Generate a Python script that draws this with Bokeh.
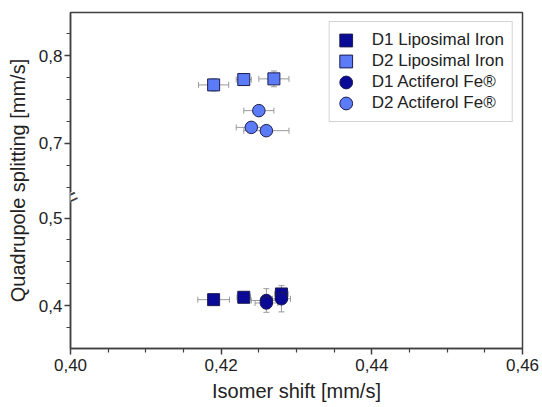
from bokeh.plotting import figure
from bokeh.models import (Range1d, LinearAxis, FixedTicker, CustomJSTickFormatter,
                          ColumnDataSource, Whisker, TeeHead, Legend, LegendItem, Label)
from bokeh.embed import file_html
from bokeh.resources import INLINE

# ---------------- data ----------------
d1_lipo_x = [0.4190, 0.4230, 0.4280]
d1_lipo_y = [0.4068, 0.4095, 0.4133]
d1_lipo_xerr = [0.0021, 0.0009, 0.0009]
d1_lipo_yerr = [0.002, 0.002, 0.004]

d2_lipo_x = [0.4190, 0.4230, 0.4270]
d2_lipo_y = [0.7668, 0.7729, 0.7737]
d2_lipo_xerr = [0.0020, 0.0010, 0.0020]
d2_lipo_yerr = [0.007, 0.004, 0.009]

d1_acti_x = [0.4260, 0.4260, 0.4280]
d1_acti_y = [0.4058, 0.4030, 0.4078]
d1_acti_xerr = [0.0020, 0.0015, 0.0012]
d1_acti_yerr = [0.0135, 0.006, 0.015]

d2_acti_x = [0.4250, 0.4240, 0.4260]
d2_acti_y = [0.7374, 0.7183, 0.7145]
d2_acti_xerr = [0.0020, 0.0020, 0.0030]
d2_acti_yerr = [0.003, 0.003, 0.003]

series_labels = ["D1 Liposimal Iron", "D2 Liposimal Iron",
                 "D1 Actiferol Fe\u00ae", "D2 Actiferol Fe\u00ae"]

x_ticks = [0.40, 0.42, 0.44, 0.46]
x_minor = [0.405, 0.41, 0.415, 0.425, 0.43, 0.435, 0.445, 0.45, 0.455]
y_ticks_lower = [0.4, 0.5]
y_minor_lower = [0.375, 0.425, 0.45, 0.475]
y_ticks_upper = [0.7, 0.8]
y_minor_upper = [0.65, 0.675, 0.725, 0.75, 0.775, 0.825]

# ---------------- broken y axis setup ----------------
lower_start = 0.351
span = 0.3838
upper_top = 0.8495
upper_start = upper_top - span
off = upper_start - lower_start
brk = 0.5237  # virtual position of the axis break

D1_COL = "#0a0a96"
D2_COL = "#5b7cf6"
EDGE = "#1c1c50"
ERR = "#9a9a9a"
AX = "#404040"
FONT = "Liberation Sans"

p = figure(width=542, height=407,
           x_range=Range1d(0.40, 0.46),
           y_range=Range1d(lower_start, lower_start + span),
           x_axis_type=None, y_axis_type=None,
           output_backend="svg", toolbar_location=None,
           min_border_left=70, min_border_right=20,
           min_border_top=12, min_border_bottom=59)
p.extra_y_ranges = {"upper": Range1d(upper_start, upper_top)}
p.outline_line_color = AX
p.outline_line_width = 1.5
p.background_fill_color = "white"
p.border_fill_color = "white"


def style_axis(ax):
    ax.axis_line_color = AX
    ax.axis_line_width = 1.5
    ax.major_tick_line_color = AX
    ax.major_tick_line_width = 1.5
    ax.minor_tick_line_color = AX
    ax.minor_tick_line_width = 1.2
    ax.major_tick_in = 0
    ax.major_tick_out = 6
    ax.minor_tick_in = 0
    ax.minor_tick_out = 4
    ax.major_label_text_font = FONT
    ax.major_label_text_font_size = "17px"
    ax.major_label_text_color = "#222222"
    ax.axis_label_text_font = FONT
    ax.axis_label_text_font_size = "20px"
    ax.axis_label_text_font_style = "normal"
    ax.axis_label_text_color = "#222222"


xaxis = LinearAxis(
    ticker=FixedTicker(ticks=x_ticks, minor_ticks=x_minor),
    formatter=CustomJSTickFormatter(code="return tick.toFixed(2).replace('.', ',');"),
    axis_label="Isomer shift [mm/s]")
style_axis(xaxis)
xaxis.major_label_standoff = 4
xaxis.axis_label_standoff = 6
p.add_layout(xaxis, "below")

y_major = y_ticks_lower + [t - off for t in y_ticks_upper]
y_min = y_minor_lower + [t - off for t in y_minor_upper]
yaxis = LinearAxis(
    ticker=FixedTicker(ticks=y_major, minor_ticks=y_min),
    formatter=CustomJSTickFormatter(
        args=dict(off=off, brk=brk),
        code="""
        const v = tick > brk ? tick + off : tick;
        return v.toFixed(1).replace('.', ',');
        """),
    axis_label="Quadrupole splitting [mm/s]")
style_axis(yaxis)
yaxis.major_label_standoff = 2
yaxis.axis_label_standoff = 7
p.add_layout(yaxis, "left")


def make_source(xs, ys, xe, ye):
    return ColumnDataSource(dict(
        x=xs, y=ys,
        xl=[a - e for a, e in zip(xs, xe)], xu=[a + e for a, e in zip(xs, xe)],
        yl=[a - e for a, e in zip(ys, ye)], yu=[a + e for a, e in zip(ys, ye)]))


def add_errors(src, rng):
    kw = {} if rng is None else dict(y_range_name=rng)
    for dim, base, lo, up in (("width", "y", "xl", "xu"), ("height", "x", "yl", "yu")):
        w = Whisker(source=src, base=base, lower=lo, upper=up, dimension=dim,
                    line_color=ERR, line_width=1,
                    upper_head=TeeHead(size=6, line_color=ERR, line_width=1),
                    lower_head=TeeHead(size=6, line_color=ERR, line_width=1), **kw)
        p.add_layout(w)


series = [
    (d1_lipo_x, d1_lipo_y, d1_lipo_xerr, d1_lipo_yerr, "square", D1_COL, None),
    (d2_lipo_x, d2_lipo_y, d2_lipo_xerr, d2_lipo_yerr, "square", D2_COL, "upper"),
    (d1_acti_x, d1_acti_y, d1_acti_xerr, d1_acti_yerr, "circle", D1_COL, None),
    (d2_acti_x, d2_acti_y, d2_acti_xerr, d2_acti_yerr, "circle", D2_COL, "upper"),
]

renderers = []
for xs, ys, xe, ye, mk, col, rng in series:
    src = make_source(xs, ys, xe, ye)
    add_errors(src, rng)
    kw = {} if rng is None else dict(y_range_name=rng)
    if mk == "square":
        r = p.rect("x", "y", width=12, height=12, width_units="screen",
                   height_units="screen", source=src,
                   fill_color=col, line_color=EDGE, line_width=1, **kw)
    else:
        r = p.ellipse("x", "y", width=12.5, height=12.5, width_units="screen",
                      height_units="screen", source=src,
                      fill_color=col, line_color=EDGE, line_width=1, **kw)
    renderers.append(r)

legend = Legend(
    items=[LegendItem(label=lab, renderers=[r]) for lab, r in zip(series_labels, renderers)],
    location="top_right", margin=9, padding=8, spacing=1,
    glyph_width=16, glyph_height=16, label_height=16, label_standoff=18,
    label_text_font=FONT, label_text_font_size="17px", label_text_color="#222222",
    border_line_color="#a8a8a8", border_line_width=1,
    background_fill_color="white", background_fill_alpha=1.0)
p.add_layout(legend)

# axis break marker
gap = Label(x=0.40, y=brk, text="\u2007", text_font_size="9px",
            text_align="center", text_baseline="middle",
            background_fill_color="white", level="overlay")
slashes = Label(x=0.40, y=brk, text="=", angle=0.45, text_font=FONT,
                text_font_size="24px", text_color=AX,
                text_align="center", text_baseline="middle", level="overlay")
p.add_layout(gap)
p.add_layout(slashes)

open("out.html", "w").write(file_html(p, INLINE))
